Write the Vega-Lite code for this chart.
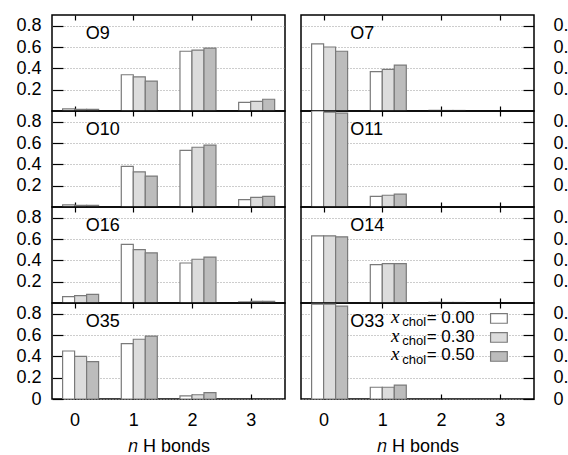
{
  "$schema": "https://vega.github.io/schema/vega-lite/v6.json",
  "padding": {"left": 15, "top": 13, "right": 0, "bottom": 0},
  "background": "white",
  "config": {
    "font": "Liberation Sans",
    "view": {"stroke": "black", "strokeWidth": 1.5},
    "axis": {"domain": false, "grid": false, "minExtent": 0, "offset": 0, "labelFont": "Liberation Sans", "labelFontSize": 18, "labelColor": "black", "tickColor": "black", "tickWidth": 1.2, "titleFont": "Liberation Sans", "titleFontSize": 18, "titleFontWeight": "normal", "titleColor": "black"},
    "axisX": {"tickSize": -5, "labels": false, "format": "d"},
    "axisY": {"tickSize": -11, "format": ".1f", "labelPadding": 22, "gridDash": [1, 2], "gridColor": "#9a9a9a", "gridWidth": 1}
  },
  "datasets": {
    "bars": [
      {"site": "O9", "n": 0, "x": "0.00", "frac": 0.02}, {"site": "O9", "n": 0, "x": "0.30", "frac": 0.015}, {"site": "O9", "n": 0, "x": "0.50", "frac": 0.015},
      {"site": "O9", "n": 1, "x": "0.00", "frac": 0.34}, {"site": "O9", "n": 1, "x": "0.30", "frac": 0.32}, {"site": "O9", "n": 1, "x": "0.50", "frac": 0.28},
      {"site": "O9", "n": 2, "x": "0.00", "frac": 0.56}, {"site": "O9", "n": 2, "x": "0.30", "frac": 0.57}, {"site": "O9", "n": 2, "x": "0.50", "frac": 0.59},
      {"site": "O9", "n": 3, "x": "0.00", "frac": 0.08}, {"site": "O9", "n": 3, "x": "0.30", "frac": 0.09}, {"site": "O9", "n": 3, "x": "0.50", "frac": 0.11},
      {"site": "O10", "n": 0, "x": "0.00", "frac": 0.02}, {"site": "O10", "n": 0, "x": "0.30", "frac": 0.015}, {"site": "O10", "n": 0, "x": "0.50", "frac": 0.015},
      {"site": "O10", "n": 1, "x": "0.00", "frac": 0.38}, {"site": "O10", "n": 1, "x": "0.30", "frac": 0.33}, {"site": "O10", "n": 1, "x": "0.50", "frac": 0.29},
      {"site": "O10", "n": 2, "x": "0.00", "frac": 0.53}, {"site": "O10", "n": 2, "x": "0.30", "frac": 0.56}, {"site": "O10", "n": 2, "x": "0.50", "frac": 0.58},
      {"site": "O10", "n": 3, "x": "0.00", "frac": 0.07}, {"site": "O10", "n": 3, "x": "0.30", "frac": 0.09}, {"site": "O10", "n": 3, "x": "0.50", "frac": 0.10},
      {"site": "O16", "n": 0, "x": "0.00", "frac": 0.06}, {"site": "O16", "n": 0, "x": "0.30", "frac": 0.07}, {"site": "O16", "n": 0, "x": "0.50", "frac": 0.08},
      {"site": "O16", "n": 1, "x": "0.00", "frac": 0.55}, {"site": "O16", "n": 1, "x": "0.30", "frac": 0.50}, {"site": "O16", "n": 1, "x": "0.50", "frac": 0.47},
      {"site": "O16", "n": 2, "x": "0.00", "frac": 0.375}, {"site": "O16", "n": 2, "x": "0.30", "frac": 0.41}, {"site": "O16", "n": 2, "x": "0.50", "frac": 0.43},
      {"site": "O16", "n": 3, "x": "0.00", "frac": 0.01}, {"site": "O16", "n": 3, "x": "0.30", "frac": 0.015}, {"site": "O16", "n": 3, "x": "0.50", "frac": 0.015},
      {"site": "O35", "n": 0, "x": "0.00", "frac": 0.45}, {"site": "O35", "n": 0, "x": "0.30", "frac": 0.40}, {"site": "O35", "n": 0, "x": "0.50", "frac": 0.35},
      {"site": "O35", "n": 1, "x": "0.00", "frac": 0.52}, {"site": "O35", "n": 1, "x": "0.30", "frac": 0.56}, {"site": "O35", "n": 1, "x": "0.50", "frac": 0.59},
      {"site": "O35", "n": 2, "x": "0.00", "frac": 0.03}, {"site": "O35", "n": 2, "x": "0.30", "frac": 0.04}, {"site": "O35", "n": 2, "x": "0.50", "frac": 0.06},
      {"site": "O7", "n": 0, "x": "0.00", "frac": 0.63}, {"site": "O7", "n": 0, "x": "0.30", "frac": 0.60}, {"site": "O7", "n": 0, "x": "0.50", "frac": 0.56},
      {"site": "O7", "n": 1, "x": "0.00", "frac": 0.37}, {"site": "O7", "n": 1, "x": "0.30", "frac": 0.39}, {"site": "O7", "n": 1, "x": "0.50", "frac": 0.43},
      {"site": "O7", "n": 2, "x": "0.00", "frac": 0.005}, {"site": "O7", "n": 2, "x": "0.30", "frac": 0.005}, {"site": "O7", "n": 2, "x": "0.50", "frac": 0.005},
      {"site": "O11", "n": 0, "x": "0.00", "frac": 0.90}, {"site": "O11", "n": 0, "x": "0.30", "frac": 0.89}, {"site": "O11", "n": 0, "x": "0.50", "frac": 0.88},
      {"site": "O11", "n": 1, "x": "0.00", "frac": 0.10}, {"site": "O11", "n": 1, "x": "0.30", "frac": 0.11}, {"site": "O11", "n": 1, "x": "0.50", "frac": 0.12},
      {"site": "O14", "n": 0, "x": "0.00", "frac": 0.63}, {"site": "O14", "n": 0, "x": "0.30", "frac": 0.63}, {"site": "O14", "n": 0, "x": "0.50", "frac": 0.62},
      {"site": "O14", "n": 1, "x": "0.00", "frac": 0.36}, {"site": "O14", "n": 1, "x": "0.30", "frac": 0.37}, {"site": "O14", "n": 1, "x": "0.50", "frac": 0.37},
      {"site": "O14", "n": 2, "x": "0.00", "frac": 0.005}, {"site": "O14", "n": 2, "x": "0.30", "frac": 0.005}, {"site": "O14", "n": 2, "x": "0.50", "frac": 0.005},
      {"site": "O33", "n": 0, "x": "0.00", "frac": 0.89}, {"site": "O33", "n": 0, "x": "0.30", "frac": 0.89}, {"site": "O33", "n": 0, "x": "0.50", "frac": 0.87},
      {"site": "O33", "n": 1, "x": "0.00", "frac": 0.11}, {"site": "O33", "n": 1, "x": "0.30", "frac": 0.11}, {"site": "O33", "n": 1, "x": "0.50", "frac": 0.13}
    ]
  },
  "hconcat": [
    {
      "spacing": 0,
      "bounds": "flush",
      "vconcat": [
        {
          "width": 233, "height": 96,
          "data": {"name": "bars"},
          "transform": [{"filter": "datum.site === 'O9'"}],
          "layer": [
            {"transform": [{"filter": "datum.x === '0.00'"}], "mark": {"type": "bar", "width": 12, "xOffset": -6, "fill": "#ffffff", "stroke": "#7a7a7a", "strokeWidth": 1.2, "clip": true},
             "encoding": {"x": {"field": "n", "type": "quantitative", "scale": {"domain": [-0.3, 3.5], "nice": false, "zero": false}, "axis": {"orient": "bottom", "values": [0, 1, 2, 3], "title": null}},
                          "y": {"field": "frac", "type": "quantitative", "scale": {"domain": [0, 0.9], "nice": false}, "axis": {"orient": "left", "grid": true, "values": [0.2, 0.4, 0.6, 0.8], "title": null}}}},
            {"transform": [{"filter": "datum.x === '0.30'"}], "mark": {"type": "bar", "width": 12, "xOffset": 6, "fill": "#dcdcdc", "stroke": "#7a7a7a", "strokeWidth": 1.2, "clip": true},
             "encoding": {"x": {"field": "n", "type": "quantitative", "scale": {"domain": [-0.3, 3.5], "nice": false, "zero": false}, "axis": {"orient": "top", "values": [0, 1, 2, 3], "title": null}},
                          "y": {"field": "frac", "type": "quantitative", "scale": {"domain": [0, 0.9], "nice": false}, "axis": null}}},
            {"transform": [{"filter": "datum.x === '0.50'"}], "mark": {"type": "bar", "width": 12, "xOffset": 18, "fill": "#bcbcbc", "stroke": "#7a7a7a", "strokeWidth": 1.2, "clip": true},
             "encoding": {"x": {"field": "n", "type": "quantitative", "scale": {"domain": [-0.3, 3.5], "nice": false, "zero": false}, "axis": null},
                          "y": {"field": "frac", "type": "quantitative", "scale": {"domain": [0, 0.9], "nice": false}, "axis": null}}},
            {"data": {"values": [{}]}, "mark": {"type": "text", "align": "left", "baseline": "middle", "fontSize": 18, "font": "Liberation Sans", "color": "black"},
             "encoding": {"x": {"datum": 0.19, "type": "quantitative", "axis": null}, "y": {"datum": 0.72, "type": "quantitative", "axis": null}, "text": {"value": "O9"}}}
          ],
          "resolve": {"axis": {"x": "independent", "y": "independent"}}
        },
        {
          "width": 233, "height": 96,
          "data": {"name": "bars"},
          "transform": [{"filter": "datum.site === 'O10'"}],
          "layer": [
            {"transform": [{"filter": "datum.x === '0.00'"}], "mark": {"type": "bar", "width": 12, "xOffset": -6, "fill": "#ffffff", "stroke": "#7a7a7a", "strokeWidth": 1.2, "clip": true},
             "encoding": {"x": {"field": "n", "type": "quantitative", "scale": {"domain": [-0.3, 3.5], "nice": false, "zero": false}, "axis": {"orient": "bottom", "values": [0, 1, 2, 3], "title": null}},
                          "y": {"field": "frac", "type": "quantitative", "scale": {"domain": [0, 0.9], "nice": false}, "axis": {"orient": "left", "grid": true, "values": [0.2, 0.4, 0.6, 0.8], "title": null}}}},
            {"transform": [{"filter": "datum.x === '0.30'"}], "mark": {"type": "bar", "width": 12, "xOffset": 6, "fill": "#dcdcdc", "stroke": "#7a7a7a", "strokeWidth": 1.2, "clip": true},
             "encoding": {"x": {"field": "n", "type": "quantitative", "scale": {"domain": [-0.3, 3.5], "nice": false, "zero": false}, "axis": {"orient": "top", "values": [0, 1, 2, 3], "title": null}},
                          "y": {"field": "frac", "type": "quantitative", "scale": {"domain": [0, 0.9], "nice": false}, "axis": null}}},
            {"transform": [{"filter": "datum.x === '0.50'"}], "mark": {"type": "bar", "width": 12, "xOffset": 18, "fill": "#bcbcbc", "stroke": "#7a7a7a", "strokeWidth": 1.2, "clip": true},
             "encoding": {"x": {"field": "n", "type": "quantitative", "scale": {"domain": [-0.3, 3.5], "nice": false, "zero": false}, "axis": null},
                          "y": {"field": "frac", "type": "quantitative", "scale": {"domain": [0, 0.9], "nice": false}, "axis": null}}},
            {"data": {"values": [{}]}, "mark": {"type": "text", "align": "left", "baseline": "middle", "fontSize": 18, "font": "Liberation Sans", "color": "black"},
             "encoding": {"x": {"datum": 0.19, "type": "quantitative", "axis": null}, "y": {"datum": 0.72, "type": "quantitative", "axis": null}, "text": {"value": "O10"}}}
          ],
          "resolve": {"axis": {"x": "independent", "y": "independent"}}
        },
        {
          "width": 233, "height": 96,
          "data": {"name": "bars"},
          "transform": [{"filter": "datum.site === 'O16'"}],
          "layer": [
            {"transform": [{"filter": "datum.x === '0.00'"}], "mark": {"type": "bar", "width": 12, "xOffset": -6, "fill": "#ffffff", "stroke": "#7a7a7a", "strokeWidth": 1.2, "clip": true},
             "encoding": {"x": {"field": "n", "type": "quantitative", "scale": {"domain": [-0.3, 3.5], "nice": false, "zero": false}, "axis": {"orient": "bottom", "values": [0, 1, 2, 3], "title": null}},
                          "y": {"field": "frac", "type": "quantitative", "scale": {"domain": [0, 0.9], "nice": false}, "axis": {"orient": "left", "grid": true, "values": [0.2, 0.4, 0.6, 0.8], "title": null}}}},
            {"transform": [{"filter": "datum.x === '0.30'"}], "mark": {"type": "bar", "width": 12, "xOffset": 6, "fill": "#dcdcdc", "stroke": "#7a7a7a", "strokeWidth": 1.2, "clip": true},
             "encoding": {"x": {"field": "n", "type": "quantitative", "scale": {"domain": [-0.3, 3.5], "nice": false, "zero": false}, "axis": {"orient": "top", "values": [0, 1, 2, 3], "title": null}},
                          "y": {"field": "frac", "type": "quantitative", "scale": {"domain": [0, 0.9], "nice": false}, "axis": null}}},
            {"transform": [{"filter": "datum.x === '0.50'"}], "mark": {"type": "bar", "width": 12, "xOffset": 18, "fill": "#bcbcbc", "stroke": "#7a7a7a", "strokeWidth": 1.2, "clip": true},
             "encoding": {"x": {"field": "n", "type": "quantitative", "scale": {"domain": [-0.3, 3.5], "nice": false, "zero": false}, "axis": null},
                          "y": {"field": "frac", "type": "quantitative", "scale": {"domain": [0, 0.9], "nice": false}, "axis": null}}},
            {"data": {"values": [{}]}, "mark": {"type": "text", "align": "left", "baseline": "middle", "fontSize": 18, "font": "Liberation Sans", "color": "black"},
             "encoding": {"x": {"datum": 0.19, "type": "quantitative", "axis": null}, "y": {"datum": 0.72, "type": "quantitative", "axis": null}, "text": {"value": "O16"}}}
          ],
          "resolve": {"axis": {"x": "independent", "y": "independent"}}
        },
        {
          "width": 233, "height": 96,
          "data": {"name": "bars"},
          "transform": [{"filter": "datum.site === 'O35'"}],
          "layer": [
            {"transform": [{"filter": "datum.x === '0.00'"}], "mark": {"type": "bar", "width": 12, "xOffset": -6, "fill": "#ffffff", "stroke": "#7a7a7a", "strokeWidth": 1.2, "clip": true},
             "encoding": {"x": {"field": "n", "type": "quantitative", "scale": {"domain": [-0.3, 3.5], "nice": false, "zero": false}, "axis": {"orient": "bottom", "values": [0, 1, 2, 3], "labels": true, "labelPadding": 17, "title": "𝑛 H bonds", "titlePadding": 8}},
                          "y": {"field": "frac", "type": "quantitative", "scale": {"domain": [0, 0.9], "nice": false}, "axis": {"orient": "left", "grid": true, "values": [0, 0.2, 0.4, 0.6, 0.8], "labelExpr": "datum.value === 0 ? '0' : datum.label", "title": null}}}},
            {"transform": [{"filter": "datum.x === '0.30'"}], "mark": {"type": "bar", "width": 12, "xOffset": 6, "fill": "#dcdcdc", "stroke": "#7a7a7a", "strokeWidth": 1.2, "clip": true},
             "encoding": {"x": {"field": "n", "type": "quantitative", "scale": {"domain": [-0.3, 3.5], "nice": false, "zero": false}, "axis": {"orient": "top", "values": [0, 1, 2, 3], "title": null}},
                          "y": {"field": "frac", "type": "quantitative", "scale": {"domain": [0, 0.9], "nice": false}, "axis": null}}},
            {"transform": [{"filter": "datum.x === '0.50'"}], "mark": {"type": "bar", "width": 12, "xOffset": 18, "fill": "#bcbcbc", "stroke": "#7a7a7a", "strokeWidth": 1.2, "clip": true},
             "encoding": {"x": {"field": "n", "type": "quantitative", "scale": {"domain": [-0.3, 3.5], "nice": false, "zero": false}, "axis": null},
                          "y": {"field": "frac", "type": "quantitative", "scale": {"domain": [0, 0.9], "nice": false}, "axis": null}}},
            {"data": {"values": [{}]}, "mark": {"type": "text", "align": "left", "baseline": "middle", "fontSize": 18, "font": "Liberation Sans", "color": "black"},
             "encoding": {"x": {"datum": 0.19, "type": "quantitative", "axis": null}, "y": {"datum": 0.72, "type": "quantitative", "axis": null}, "text": {"value": "O35"}}}
          ],
          "resolve": {"axis": {"x": "independent", "y": "independent"}}
        }
      ]
    },
    {
      "spacing": 0,
      "bounds": "flush",
      "vconcat": [
        {
          "width": 233, "height": 96,
          "data": {"name": "bars"},
          "transform": [{"filter": "datum.site === 'O7'"}],
          "layer": [
            {"transform": [{"filter": "datum.x === '0.00'"}], "mark": {"type": "bar", "width": 12, "xOffset": -6, "fill": "#ffffff", "stroke": "#7a7a7a", "strokeWidth": 1.2, "clip": true},
             "encoding": {"x": {"field": "n", "type": "quantitative", "scale": {"domain": [-0.3, 3.5], "nice": false, "zero": false}, "axis": {"orient": "bottom", "values": [0, 1, 2, 3], "title": null}},
                          "y": {"field": "frac", "type": "quantitative", "scale": {"domain": [0, 0.9], "nice": false}, "axis": {"orient": "right", "grid": true, "labelPadding": 30, "values": [0.2, 0.4, 0.6, 0.8], "title": null}}}},
            {"transform": [{"filter": "datum.x === '0.30'"}], "mark": {"type": "bar", "width": 12, "xOffset": 6, "fill": "#dcdcdc", "stroke": "#7a7a7a", "strokeWidth": 1.2, "clip": true},
             "encoding": {"x": {"field": "n", "type": "quantitative", "scale": {"domain": [-0.3, 3.5], "nice": false, "zero": false}, "axis": {"orient": "top", "values": [0, 1, 2, 3], "title": null}},
                          "y": {"field": "frac", "type": "quantitative", "scale": {"domain": [0, 0.9], "nice": false}, "axis": null}}},
            {"transform": [{"filter": "datum.x === '0.50'"}], "mark": {"type": "bar", "width": 12, "xOffset": 18, "fill": "#bcbcbc", "stroke": "#7a7a7a", "strokeWidth": 1.2, "clip": true},
             "encoding": {"x": {"field": "n", "type": "quantitative", "scale": {"domain": [-0.3, 3.5], "nice": false, "zero": false}, "axis": null},
                          "y": {"field": "frac", "type": "quantitative", "scale": {"domain": [0, 0.9], "nice": false}, "axis": null}}},
            {"data": {"values": [{}]}, "mark": {"type": "text", "align": "left", "baseline": "middle", "fontSize": 18, "font": "Liberation Sans", "color": "black"},
             "encoding": {"x": {"datum": 0.455, "type": "quantitative", "axis": null}, "y": {"datum": 0.72, "type": "quantitative", "axis": null}, "text": {"value": "O7"}}}
          ],
          "resolve": {"axis": {"x": "independent", "y": "independent"}}
        },
        {
          "width": 233, "height": 96,
          "data": {"name": "bars"},
          "transform": [{"filter": "datum.site === 'O11'"}],
          "layer": [
            {"transform": [{"filter": "datum.x === '0.00'"}], "mark": {"type": "bar", "width": 12, "xOffset": -6, "fill": "#ffffff", "stroke": "#7a7a7a", "strokeWidth": 1.2, "clip": true},
             "encoding": {"x": {"field": "n", "type": "quantitative", "scale": {"domain": [-0.3, 3.5], "nice": false, "zero": false}, "axis": {"orient": "bottom", "values": [0, 1, 2, 3], "title": null}},
                          "y": {"field": "frac", "type": "quantitative", "scale": {"domain": [0, 0.9], "nice": false}, "axis": {"orient": "right", "grid": true, "labelPadding": 30, "values": [0.2, 0.4, 0.6, 0.8], "title": null}}}},
            {"transform": [{"filter": "datum.x === '0.30'"}], "mark": {"type": "bar", "width": 12, "xOffset": 6, "fill": "#dcdcdc", "stroke": "#7a7a7a", "strokeWidth": 1.2, "clip": true},
             "encoding": {"x": {"field": "n", "type": "quantitative", "scale": {"domain": [-0.3, 3.5], "nice": false, "zero": false}, "axis": {"orient": "top", "values": [0, 1, 2, 3], "title": null}},
                          "y": {"field": "frac", "type": "quantitative", "scale": {"domain": [0, 0.9], "nice": false}, "axis": null}}},
            {"transform": [{"filter": "datum.x === '0.50'"}], "mark": {"type": "bar", "width": 12, "xOffset": 18, "fill": "#bcbcbc", "stroke": "#7a7a7a", "strokeWidth": 1.2, "clip": true},
             "encoding": {"x": {"field": "n", "type": "quantitative", "scale": {"domain": [-0.3, 3.5], "nice": false, "zero": false}, "axis": null},
                          "y": {"field": "frac", "type": "quantitative", "scale": {"domain": [0, 0.9], "nice": false}, "axis": null}}},
            {"data": {"values": [{}]}, "mark": {"type": "text", "align": "left", "baseline": "middle", "fontSize": 18, "font": "Liberation Sans", "color": "black"},
             "encoding": {"x": {"datum": 0.455, "type": "quantitative", "axis": null}, "y": {"datum": 0.72, "type": "quantitative", "axis": null}, "text": {"value": "O11"}}}
          ],
          "resolve": {"axis": {"x": "independent", "y": "independent"}}
        },
        {
          "width": 233, "height": 96,
          "data": {"name": "bars"},
          "transform": [{"filter": "datum.site === 'O14'"}],
          "layer": [
            {"transform": [{"filter": "datum.x === '0.00'"}], "mark": {"type": "bar", "width": 12, "xOffset": -6, "fill": "#ffffff", "stroke": "#7a7a7a", "strokeWidth": 1.2, "clip": true},
             "encoding": {"x": {"field": "n", "type": "quantitative", "scale": {"domain": [-0.3, 3.5], "nice": false, "zero": false}, "axis": {"orient": "bottom", "values": [0, 1, 2, 3], "title": null}},
                          "y": {"field": "frac", "type": "quantitative", "scale": {"domain": [0, 0.9], "nice": false}, "axis": {"orient": "right", "grid": true, "labelPadding": 30, "values": [0.2, 0.4, 0.6, 0.8], "title": null}}}},
            {"transform": [{"filter": "datum.x === '0.30'"}], "mark": {"type": "bar", "width": 12, "xOffset": 6, "fill": "#dcdcdc", "stroke": "#7a7a7a", "strokeWidth": 1.2, "clip": true},
             "encoding": {"x": {"field": "n", "type": "quantitative", "scale": {"domain": [-0.3, 3.5], "nice": false, "zero": false}, "axis": {"orient": "top", "values": [0, 1, 2, 3], "title": null}},
                          "y": {"field": "frac", "type": "quantitative", "scale": {"domain": [0, 0.9], "nice": false}, "axis": null}}},
            {"transform": [{"filter": "datum.x === '0.50'"}], "mark": {"type": "bar", "width": 12, "xOffset": 18, "fill": "#bcbcbc", "stroke": "#7a7a7a", "strokeWidth": 1.2, "clip": true},
             "encoding": {"x": {"field": "n", "type": "quantitative", "scale": {"domain": [-0.3, 3.5], "nice": false, "zero": false}, "axis": null},
                          "y": {"field": "frac", "type": "quantitative", "scale": {"domain": [0, 0.9], "nice": false}, "axis": null}}},
            {"data": {"values": [{}]}, "mark": {"type": "text", "align": "left", "baseline": "middle", "fontSize": 18, "font": "Liberation Sans", "color": "black"},
             "encoding": {"x": {"datum": 0.455, "type": "quantitative", "axis": null}, "y": {"datum": 0.72, "type": "quantitative", "axis": null}, "text": {"value": "O14"}}}
          ],
          "resolve": {"axis": {"x": "independent", "y": "independent"}}
        },
        {
          "width": 233, "height": 96,
          "data": {"name": "bars"},
          "transform": [{"filter": "datum.site === 'O33'"}],
          "layer": [
            {"transform": [{"filter": "datum.x === '0.00'"}], "mark": {"type": "bar", "width": 12, "xOffset": -6, "fill": "#ffffff", "stroke": "#7a7a7a", "strokeWidth": 1.2, "clip": true},
             "encoding": {"x": {"field": "n", "type": "quantitative", "scale": {"domain": [-0.3, 3.5], "nice": false, "zero": false}, "axis": {"orient": "bottom", "values": [0, 1, 2, 3], "labels": true, "labelPadding": 17, "title": "𝑛 H bonds", "titlePadding": 8}},
                          "y": {"field": "frac", "type": "quantitative", "scale": {"domain": [0, 0.9], "nice": false}, "axis": {"orient": "right", "grid": true, "labelPadding": 30, "values": [0, 0.2, 0.4, 0.6, 0.8], "labelExpr": "datum.value === 0 ? '0' : datum.label", "title": null}}}},
            {"transform": [{"filter": "datum.x === '0.30'"}], "mark": {"type": "bar", "width": 12, "xOffset": 6, "fill": "#dcdcdc", "stroke": "#7a7a7a", "strokeWidth": 1.2, "clip": true},
             "encoding": {"x": {"field": "n", "type": "quantitative", "scale": {"domain": [-0.3, 3.5], "nice": false, "zero": false}, "axis": {"orient": "top", "values": [0, 1, 2, 3], "title": null}},
                          "y": {"field": "frac", "type": "quantitative", "scale": {"domain": [0, 0.9], "nice": false}, "axis": null}}},
            {"transform": [{"filter": "datum.x === '0.50'"}], "mark": {"type": "bar", "width": 12, "xOffset": 18, "fill": "#bcbcbc", "stroke": "#7a7a7a", "strokeWidth": 1.2, "clip": true},
             "encoding": {"x": {"field": "n", "type": "quantitative", "scale": {"domain": [-0.3, 3.5], "nice": false, "zero": false}, "axis": null},
                          "y": {"field": "frac", "type": "quantitative", "scale": {"domain": [0, 0.9], "nice": false}, "axis": null}}},
            {"data": {"values": [{}]}, "mark": {"type": "text", "align": "left", "baseline": "middle", "fontSize": 18, "font": "Liberation Sans", "color": "black"},
             "encoding": {"x": {"datum": 0.455, "type": "quantitative", "axis": null}, "y": {"datum": 0.72, "type": "quantitative", "axis": null}, "text": {"value": "O33"}}},
            {"data": {"values": [{}]}, "mark": {"type": "text", "align": "left", "baseline": "alphabetic", "fontSize": 19, "font": "Liberation Serif", "fontStyle": "italic", "color": "black", "lineHeight": 18.7},
             "encoding": {"x": {"datum": 1.15, "type": "quantitative", "axis": null}, "y": {"datum": 0.712, "type": "quantitative", "axis": null}, "text": {"value": ["x", "x", "x"]}}},
            {"data": {"values": [{}]}, "mark": {"type": "text", "align": "left", "baseline": "alphabetic", "fontSize": 13, "font": "Liberation Sans", "color": "black", "lineHeight": 18.7},
             "encoding": {"x": {"datum": 1.34, "type": "quantitative", "axis": null}, "y": {"datum": 0.68, "type": "quantitative", "axis": null}, "text": {"value": ["chol", "chol", "chol"]}}},
            {"data": {"values": [{}]}, "mark": {"type": "text", "align": "right", "baseline": "alphabetic", "fontSize": 17, "font": "Liberation Sans", "color": "black", "lineHeight": 18.7},
             "encoding": {"x": {"datum": 2.57, "type": "quantitative", "axis": null}, "y": {"datum": 0.712, "type": "quantitative", "axis": null}, "text": {"value": ["= 0.00", "= 0.30", "= 0.50"]}}},
            {"data": {"values": [{}]}, "mark": {"type": "rect", "fill": "#ffffff", "stroke": "#7a7a7a", "strokeWidth": 1.2},
             "encoding": {"x": {"datum": 2.845, "type": "quantitative", "axis": null}, "x2": {"datum": 3.13}, "y": {"datum": 0.80, "type": "quantitative", "axis": null}, "y2": {"datum": 0.71}}},
            {"data": {"values": [{}]}, "mark": {"type": "rect", "fill": "#dcdcdc", "stroke": "#7a7a7a", "strokeWidth": 1.2},
             "encoding": {"x": {"datum": 2.845, "type": "quantitative", "axis": null}, "x2": {"datum": 3.13}, "y": {"datum": 0.622, "type": "quantitative", "axis": null}, "y2": {"datum": 0.532}}},
            {"data": {"values": [{}]}, "mark": {"type": "rect", "fill": "#bcbcbc", "stroke": "#7a7a7a", "strokeWidth": 1.2},
             "encoding": {"x": {"datum": 2.845, "type": "quantitative", "axis": null}, "x2": {"datum": 3.13}, "y": {"datum": 0.444, "type": "quantitative", "axis": null}, "y2": {"datum": 0.354}}}
          ],
          "resolve": {"axis": {"x": "independent", "y": "independent"}}
        }
      ]
    }
  ],
  "spacing": 14
}
